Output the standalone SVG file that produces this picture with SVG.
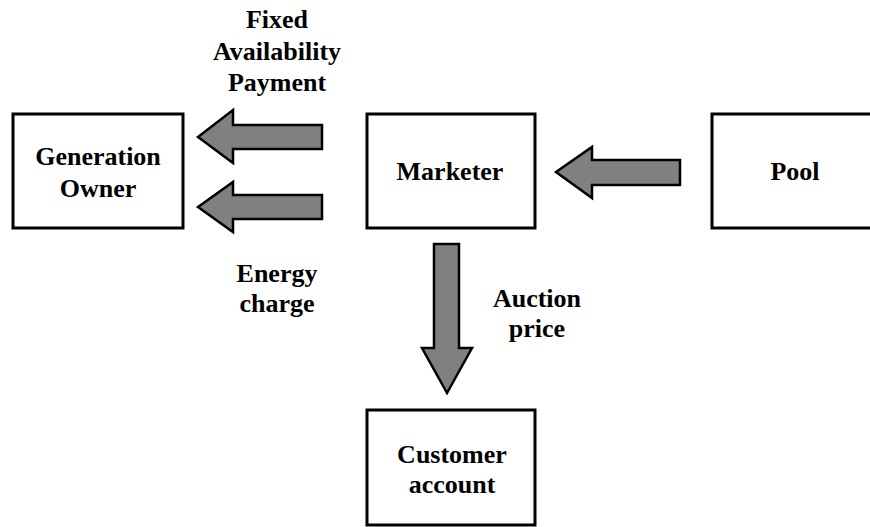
<svg xmlns="http://www.w3.org/2000/svg" width="870" height="527" viewBox="0 0 870 527">
<style>
.box{fill:#fff;stroke:#000;stroke-width:3}
.arr{fill:#808080;stroke:#000;stroke-width:2.5;stroke-linejoin:miter}
.t{font-family:'Liberation Serif','Times New Roman',Times,'DejaVu Serif',serif;font-weight:700;font-size:26px;text-anchor:middle;fill:#000}
</style>
<rect width="870" height="527" fill="#fff"/>
<g id="connectors">
<polygon class="arr" points="198,137 233,110 233,125 322,125 322,149 233,149 233,163"/>
<polygon class="arr" points="198,207 233,182 233,195 322,195 322,219 233,219 233,232"/>
<polygon class="arr" points="556,172 592,147 592,160 680,160 680,185 592,185 592,198"/>
<polygon class="arr" points="434,244 459,244 459,348 472,348 447,393 422,348 434,348"/>
</g>
<g id="generation-owner">
<rect class="box" x="13" y="114" width="170" height="114"/>
<text class="t" x="98" y="165">Generation</text>
<text class="t" x="98" y="197">Owner</text>
</g>
<g id="marketer">
<rect class="box" x="367" y="114" width="168" height="114"/>
<text class="t" x="450" y="180">Marketer</text>
</g>
<g id="pool">
<rect class="box" x="712" y="114" width="170" height="114"/>
<text class="t" x="795" y="180">Pool</text>
</g>
<g id="customer-account">
<rect class="box" x="367" y="410" width="168" height="115"/>
<text class="t" x="452" y="463">Customer</text>
<text class="t" x="452" y="493">account</text>
</g>
<g id="labels">
<text class="t" x="277" y="28">Fixed</text>
<text class="t" x="277" y="60">Availability</text>
<text class="t" x="277" y="91">Payment</text>
<text class="t" x="277" y="282">Energy</text>
<text class="t" x="277" y="312">charge</text>
<text class="t" x="537" y="307">Auction</text>
<text class="t" x="537" y="337">price</text>
</g>
</svg>
